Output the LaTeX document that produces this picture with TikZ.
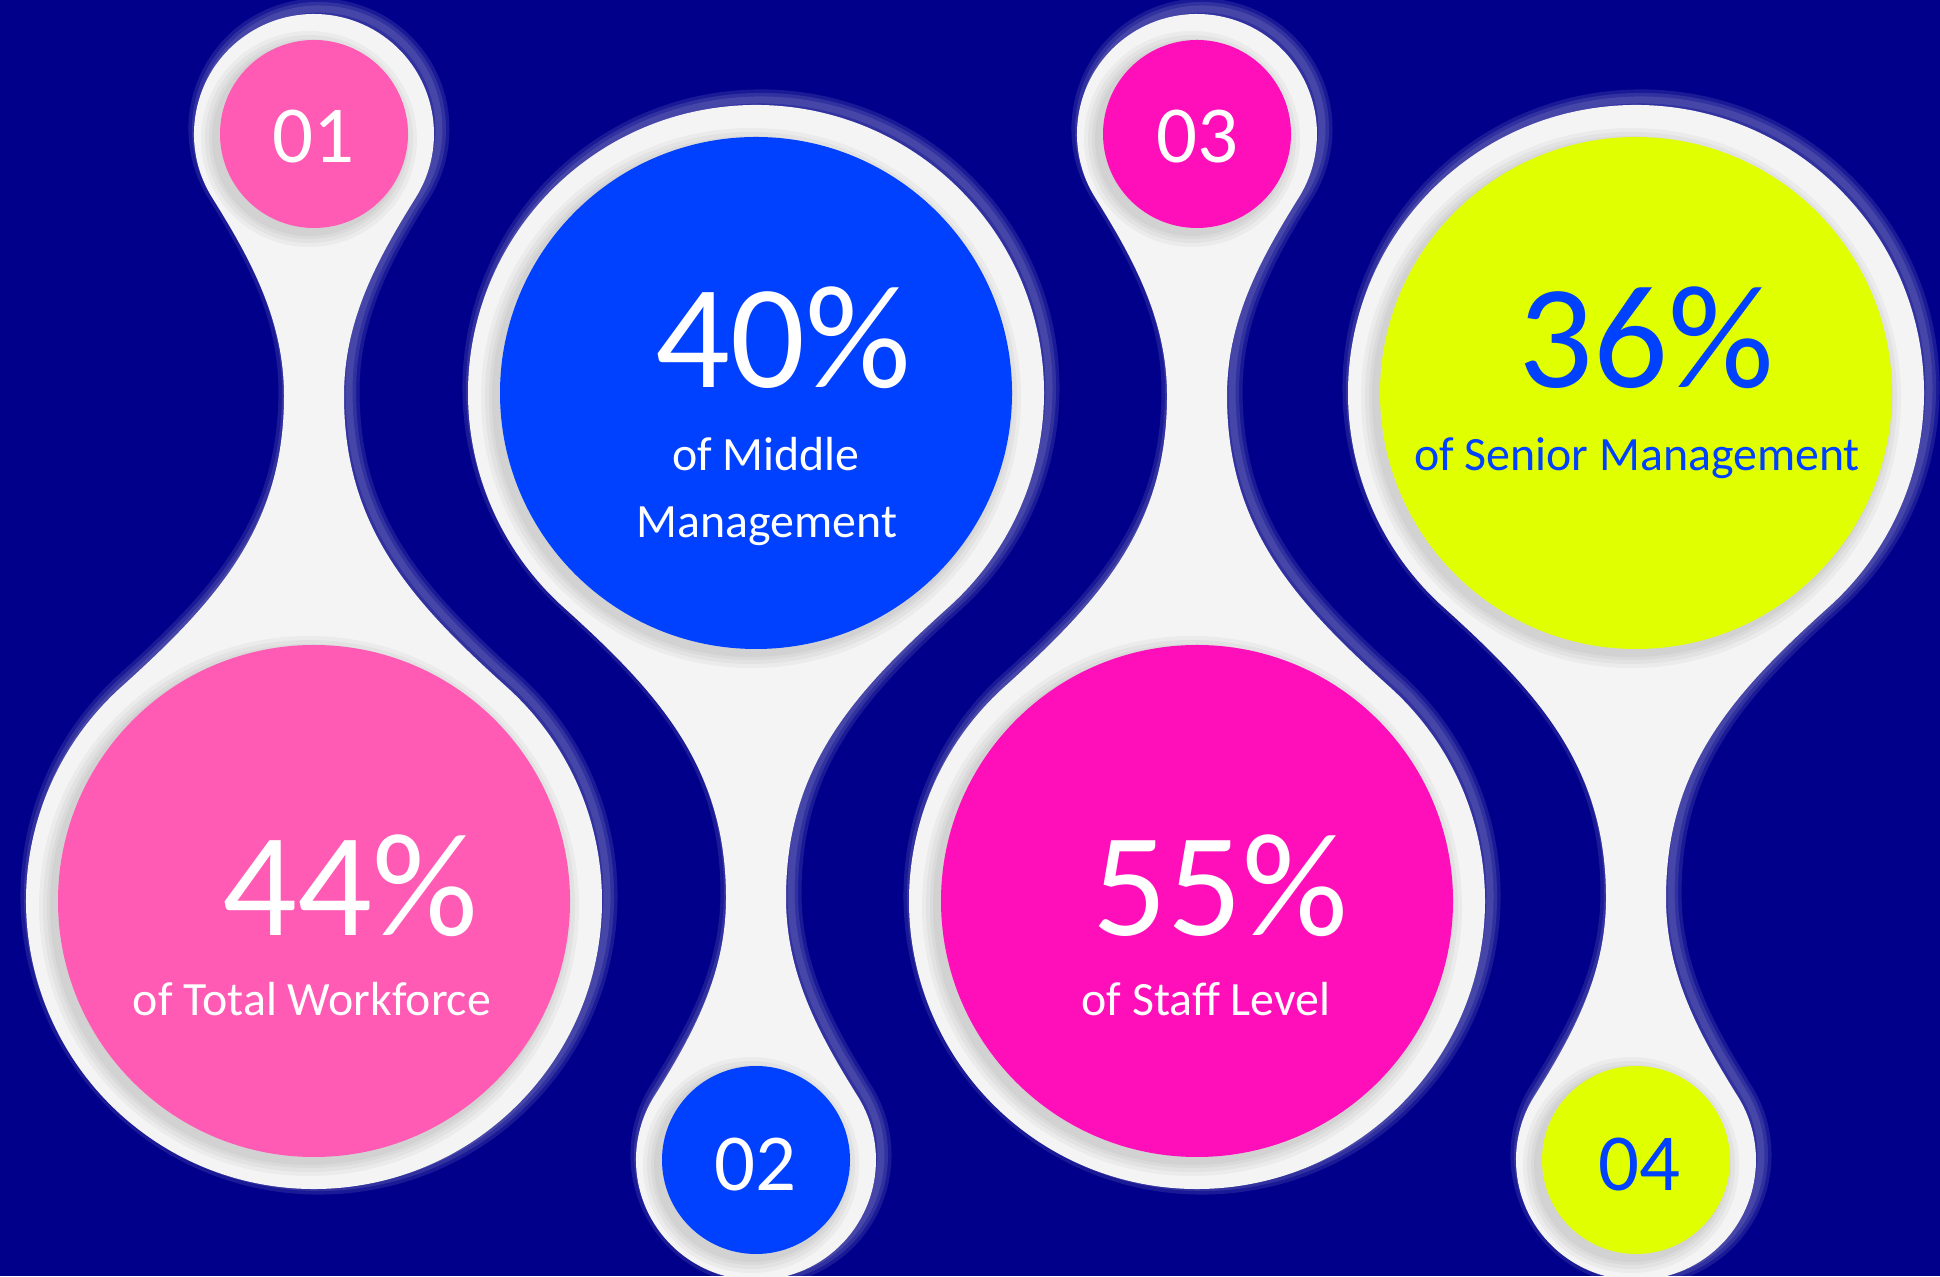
\documentclass[tikz,border=0pt]{standalone}
\usepackage{fontspec}
\setmainfont{Carlito}

\definecolor{navy}{RGB}{0,0,139}
\definecolor{paper}{RGB}{244,244,244}
\definecolor{rosepink}{RGB}{255,90,180}
\definecolor{royalblue}{RGB}{0,64,255}
\definecolor{hotmagenta}{RGB}{255,15,185}
\definecolor{limeyellow}{RGB}{224,255,0}

% outline of one pin: small ring at (0,0), big ring at (0,-767)
\newcommand{\pinoutline}{(-101.8,-63.6) arc[start angle=212, end angle=-32, radius=120]
  .. controls (62,-127.2) and (30,-187) .. (30,-262)
  .. controls (30,-392) and (96.1,-466) .. (192.7,-553)
  arc[start angle=48, end angle=-228, radius=288]
  .. controls (-96.1,-466) and (-30,-392) .. (-30,-262)
  .. controls (-30,-187) and (-62,-127.2) .. (-101.8,-63.6) -- cycle}

\tikzset{
  bignum/.style={font=\fontsize{42}{48}\selectfont, anchor=base},
  smallnum/.style={font=\fontsize{23}{28}\selectfont, anchor=base},
  caption/.style={font=\fontsize{13.6}{16}\selectfont, anchor=base}
}

\begin{document}
\begin{tikzpicture}[x=0.01cm, y=0.01cm]
  \useasboundingbox (0,0) rectangle (1940,1276);
  \fill[navy] (0,0) rectangle (1940,1276);

  % Pins
  \foreach \cx/\cy/\flip/\col in {314/1142/1/rosepink, 756/116/-1/royalblue,
                                  1197/1142/1/hotmagenta, 1636/116/-1/limeyellow} {
    \begin{scope}[shift={(\cx,\cy)}, yscale=\flip]
      \foreach \w in {6,4,2}
        \draw[white, opacity=0.1, line width=\w pt, shift={(5,{5*\flip})}] \pinoutline;
      \fill[paper] \pinoutline;
      % shadows round the coloured discs
      \foreach \g in {14,10,6,3} {
        \fill[black, opacity=0.035] (-5,{-5*\flip}) circle[radius={94+\g}];
        \fill[black, opacity=0.035] (-5,{-767-5*\flip}) circle[radius={256+\g}];
      }
      \fill[\col] (0,0) circle[radius=94];
      \fill[\col] (0,-767) circle[radius=256];
    \end{scope}
  }

  % Texts
  \node[smallnum, white] (num01) at (313,1113) {01};
  \node[bignum, white] (pct01) at (350,340) {44\%};
  \node[caption, white] (lbl01) at (312,260) {of Total Workforce};

  \node[smallnum, white] (num02) at (755,86) {02};
  \node[bignum, white] (pct02) at (783,888) {40\%};
  \node[caption, white] (lbl02a) at (766,805) {of Middle};
  \node[caption, white] (lbl02b) at (767,738) {Management};

  \node[smallnum, white] (num03) at (1197,1113) {03};
  \node[bignum, white] (pct03) at (1220,340) {55\%};
  \node[caption, white] (lbl03) at (1206,260) {of Staff Level};

  \node[smallnum, royalblue] (num04) at (1639,86) {04};
  \node[bignum, royalblue] (pct04) at (1646,888) {36\%};
  \node[caption, royalblue] (lbl04) at (1637,805) {of Senior Management};
\end{tikzpicture}
\end{document}
